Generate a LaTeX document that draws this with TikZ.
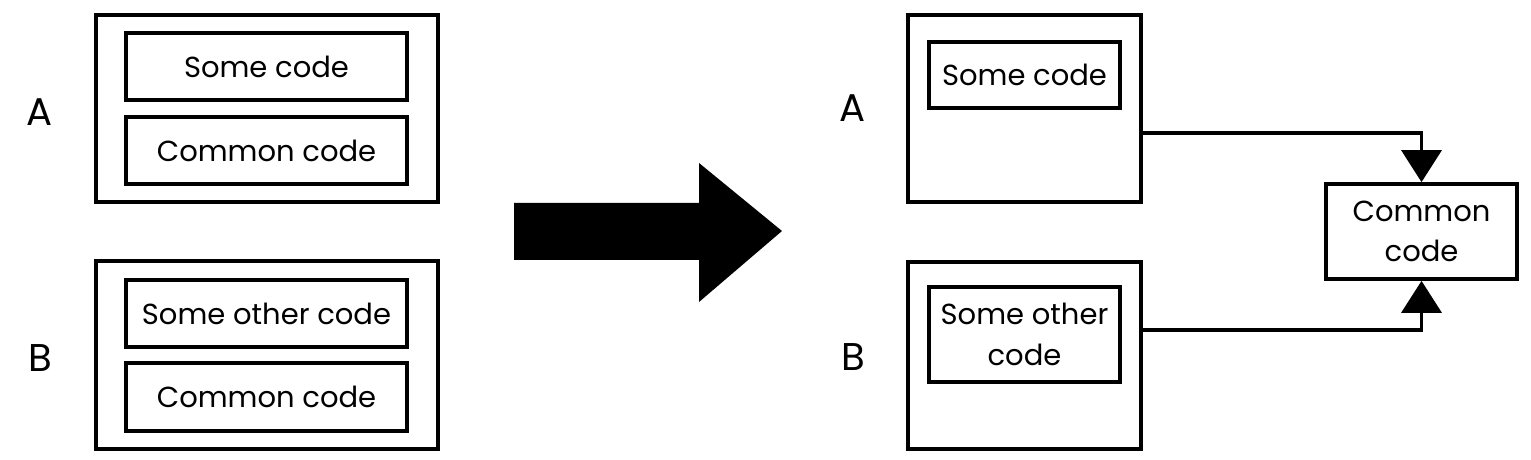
\documentclass[tikz,border=0pt]{standalone}
\usepackage{fontspec}
\setmainfont{Poppins}
\usetikzlibrary{arrows.meta}

\tikzset{
    outerbox/.style={rectangle, draw, line width=2.1pt, inner sep=0pt},
    codebox/.style={rectangle, draw, line width=2.5pt, inner sep=0pt, align=center,
        font=\fontsize{16.5}{23}\selectfont},
    panellabel/.style={font=\fontsize{22}{24}\selectfont},
    link/.style={line width=2pt, -{Triangle[width=8mm, length=6.4mm]}}
}

\begin{document}
\begin{tikzpicture}[x=0.2mm, y=-0.2mm]
    \useasboundingbox (0,0) rectangle (1531,460);

    % Before: A and B each hold their own copy
    \node[panellabel] (la) at (40,112) {A};
    \node[outerbox, minimum width=68.4mm, minimum height=37.4mm] (oa) at (267,108.5) {};
    \node[codebox, minimum width=56.2mm, minimum height=13.4mm] (someA) at (266.5,66.5) {Some code};
    \node[codebox, minimum width=56.2mm, minimum height=13.4mm] (commonA) at (266.5,150.5) {Common code};

    \node[panellabel] (lb) at (40,358) {B};
    \node[outerbox, minimum width=68.4mm, minimum height=37.6mm] (ob) at (267,355) {};
    \node[codebox, minimum width=56.2mm, minimum height=13.4mm] (otherB) at (266.5,313.5) {Some other code};
    \node[codebox, minimum width=56.2mm, minimum height=13.6mm] (commonB) at (266.5,397) {Common code};

    % Big arrow
    \fill (514,203) -- (699,203) -- (699,163) -- (782,231) -- (699,302) -- (699,260) -- (514,260) -- cycle;

    % After: common code pulled out
    \node[panellabel] (ra_label) at (853,108) {A};
    \node[outerbox, minimum width=46.6mm, minimum height=37.4mm] (ra) at (1024.5,108.5) {};
    \node[codebox, minimum width=38.2mm, minimum height=13.2mm] (rsome) at (1024.5,75) {Some code};

    \node[panellabel] (rb_label) at (853,357) {B};
    \node[outerbox, minimum width=46.6mm, minimum height=37.4mm] (rb) at (1024.5,355.5) {};
    \node[codebox, minimum width=38.2mm, minimum height=19mm] (rother) at (1024.5,334.5) {Some other\\code};

    \node[outerbox, align=center, font=\fontsize{16.5}{23}\selectfont,
        minimum width=38.2mm, minimum height=19mm] (common) at (1421.5,231.5) {Common\\code};

    \coordinate (aout) at (1141,133);
    \coordinate (bout) at (1141,330);
    \draw[link] (aout) -| (common.north);
    \draw[link] (bout) -| (common.south);
\end{tikzpicture}
\end{document}
